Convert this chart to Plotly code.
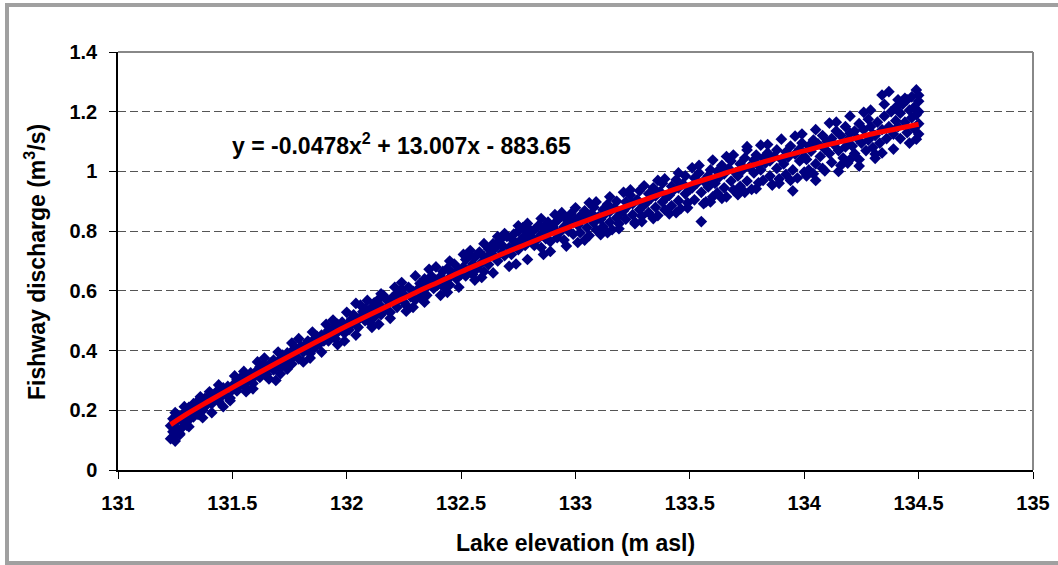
import plotly.graph_objects as go

# ---------------- data ----------------
# core of the scatter cloud
elevation = [
    131.23,131.23,131.24,131.24,131.25,131.25,131.26,131.26,131.27,131.28,131.28,131.29,131.30,131.30,
    131.31,131.31,131.32,131.33,131.33,131.34,131.35,131.35,131.36,131.37,131.38,131.38,131.39,131.40,
    131.41,131.41,131.42,131.43,131.44,131.44,131.45,131.46,131.47,131.48,131.49,131.50,
    131.51,131.52,131.52,131.53,131.54,131.55,131.56,131.56,131.57,131.58,131.59,131.60,
    131.61,131.62,131.62,131.63,131.64,131.65,131.66,131.67,131.68,131.68,131.69,131.70,
    131.71,131.72,131.72,131.73,131.74,131.75,131.76,131.76,131.77,131.78,131.79,131.80,
    131.81,131.82,131.82,131.83,131.84,131.85,131.86,131.86,131.87,131.88,131.89,131.90,
    131.91,131.92,131.92,131.93,131.94,131.95,131.96,131.96,131.97,131.98,131.99,132.00,
    132.01,132.02,132.02,132.03,132.04,132.04,132.05,132.06,132.07,132.08,132.08,132.09,132.10,132.10,
    132.11,132.12,132.12,132.13,132.14,132.15,132.15,132.16,132.17,132.18,132.19,132.20,
    132.21,132.22,132.22,132.23,132.24,132.25,132.25,132.26,132.27,132.28,132.29,132.30,
    132.31,132.32,132.32,132.33,132.34,132.35,132.35,132.36,132.37,132.38,132.39,132.40,
    132.41,132.42,132.42,132.43,132.44,132.45,132.45,132.46,132.47,132.48,132.49,132.50,
    132.51,132.52,132.52,132.53,132.54,132.55,132.55,132.56,132.57,132.58,132.59,132.60,132.60,
    132.61,132.62,132.62,132.63,132.64,132.65,132.65,132.66,132.67,132.68,132.68,132.69,132.70,
    132.71,132.72,132.72,132.73,132.74,132.75,132.75,132.76,132.77,132.78,132.78,132.79,132.80,
    132.81,132.82,132.82,132.83,132.84,132.85,132.85,132.86,132.87,132.88,132.88,132.89,132.90,
    132.91,132.92,132.92,132.93,132.94,132.95,132.95,132.96,132.97,132.98,132.98,132.99,133.00,
    133.01,133.02,133.02,133.03,133.04,133.05,133.05,133.06,133.07,133.08,133.08,133.09,133.10,
    133.11,133.12,133.12,133.13,133.14,133.15,133.15,133.16,133.17,133.18,133.18,133.19,133.20,
    133.21,133.22,133.22,133.23,133.24,133.25,133.25,133.26,133.27,133.28,133.28,133.29,133.30,
    133.31,133.32,133.32,133.33,133.34,133.35,133.35,133.36,133.37,133.38,133.38,133.39,133.40,
    133.41,133.42,133.42,133.43,133.44,133.45,133.45,133.46,133.47,133.48,133.48,133.49,133.50,
    133.51,133.52,133.52,133.53,133.54,133.55,133.55,133.56,133.57,133.58,133.58,133.59,133.60,133.60,
    133.61,133.62,133.62,133.63,133.64,133.65,133.65,133.66,133.67,133.68,133.68,133.69,133.70,
    133.71,133.72,133.72,133.73,133.74,133.75,133.75,133.76,133.77,133.78,133.78,133.79,133.80,133.80,
    133.81,133.82,133.82,133.83,133.84,133.85,133.85,133.86,133.87,133.88,133.88,133.89,133.90,
    133.91,133.92,133.92,133.93,133.94,133.95,133.95,133.96,133.97,133.98,133.98,133.99,134.00,134.00,
    134.01,134.02,134.02,134.03,134.04,134.05,134.05,134.06,134.07,134.08,134.08,134.09,134.10,
    134.11,134.12,134.12,134.13,134.14,134.15,134.15,134.16,134.17,134.18,134.18,134.19,134.20,134.20,
    134.21,134.22,134.22,134.23,134.24,134.24,134.25,134.26,134.27,134.28,134.28,134.29,134.30,134.30,
    134.31,134.31,134.32,134.33,134.34,134.34,134.35,134.36,134.37,134.37,134.38,134.39,134.40,134.40,
    134.41,134.42,134.42,134.43,134.44,134.45,134.45,134.46,134.47,134.47,134.48,134.48,134.49,134.49,134.50,134.50,134.50,134.50,
]
discharge = [
    0.105,0.148,0.128,0.172,0.097,0.158,0.135,0.185,0.118,0.165,0.142,0.192,0.175,0.150,
    0.168,0.210,0.190,0.222,0.178,0.205,0.232,0.186,0.215,0.200,0.240,0.212,0.225,0.248,
    0.222,0.252,0.240,0.262,0.230,0.255,0.245,0.275,0.252,0.280,0.241,0.268,
    0.290,0.265,0.302,0.280,0.312,0.292,0.275,0.318,0.300,0.325,0.290,0.315,
    0.335,0.310,0.345,0.325,0.352,0.320,0.342,0.360,0.335,0.368,0.300,0.350,
    0.372,0.350,0.385,0.365,0.392,0.378,0.355,0.398,0.382,0.405,0.372,0.415,
    0.395,0.420,0.405,0.432,0.390,0.425,0.440,0.410,0.448,0.422,0.452,0.432,
    0.455,0.432,0.468,0.448,0.475,0.440,0.462,0.488,0.470,0.495,0.458,0.485,
    0.470,0.505,0.488,0.520,0.558,0.495,0.478,0.512,0.530,0.500,0.540,0.518,0.495,0.535,
    0.545,0.512,0.560,0.530,0.572,0.520,0.548,0.585,0.538,0.565,0.528,0.578,
    0.560,0.592,0.545,0.575,0.605,0.562,0.588,0.552,0.612,0.580,0.598,0.570,
    0.605,0.580,0.625,0.598,0.640,0.612,0.585,0.630,0.650,0.608,0.636,0.622,
    0.648,0.615,0.665,0.632,0.675,0.645,0.620,0.660,0.690,0.640,0.672,0.655,
    0.680,0.650,0.705,0.668,0.720,0.690,0.655,0.712,0.675,0.730,0.695,0.665,0.715,
    0.705,0.740,0.688,0.725,0.758,0.712,0.745,0.700,0.770,0.730,0.752,0.718,0.782,
    0.745,0.775,0.722,0.790,0.758,0.800,0.738,0.770,0.812,0.752,0.785,0.765,0.805,
    0.780,0.752,0.805,0.770,0.820,0.790,0.745,0.812,0.775,0.830,0.798,0.765,0.815,
    0.805,0.778,0.835,0.795,0.850,0.815,0.770,0.840,0.800,0.858,0.825,0.790,0.838,
    0.820,0.850,0.795,0.838,0.868,0.812,0.845,0.785,0.860,0.828,0.880,0.805,0.848,
    0.840,0.872,0.815,0.858,0.890,0.830,0.865,0.805,0.878,0.845,0.900,0.825,0.862,
    0.868,0.898,0.840,0.885,0.920,0.855,0.892,0.830,0.905,0.872,0.935,0.850,0.888,
    0.895,0.925,0.862,0.910,0.945,0.880,0.918,0.852,0.932,0.898,0.960,0.872,0.915,
    0.920,0.950,0.885,0.938,0.972,0.902,0.945,0.875,0.958,0.925,0.985,0.895,0.940,
    0.945,0.978,0.905,0.960,0.995,0.832,0.930,0.968,0.898,0.985,0.948,1.005,0.915,0.970,
    0.960,1.000,0.928,0.982,1.020,0.945,0.992,0.915,1.010,0.968,1.035,0.938,0.995,
    0.985,1.025,0.950,1.005,1.045,1.083,0.968,1.015,0.940,1.038,0.995,1.055,0.962,1.020,
    1.005,1.045,0.970,1.028,1.062,0.985,1.035,0.955,1.050,1.010,1.072,0.975,1.040,
    1.025,1.065,0.990,1.048,1.085,0.935,1.005,1.058,0.978,1.075,1.035,1.095,0.998,1.050,
    1.040,1.085,1.005,1.068,1.105,0.970,1.025,1.092,1.050,1.120,1.010,1.075,1.100,
    1.060,1.110,1.030,1.090,1.135,1.000,1.070,1.120,1.045,1.150,1.082,1.105,1.040,1.128,
    1.085,1.135,1.060,1.112,1.018,1.160,1.095,1.140,1.070,1.175,1.105,1.150,1.080,1.125,
    1.044,1.120,1.165,1.095,1.256,1.140,1.185,1.110,1.267,1.150,1.200,1.125,1.170,1.215,
    1.150,1.195,1.110,1.225,1.165,1.240,1.130,1.205,1.180,1.250,1.145,1.215,1.273,1.190,1.125,1.160,1.200,1.235,
]

# points along the upper edge of the cloud
upper_x = [131.25,131.29,131.36,131.40,131.44,131.51,131.55,131.61,131.64,131.70,131.76,131.79,131.85,131.91,
           131.94,132.00,132.06,132.09,132.15,132.21,132.24,132.30,132.36,132.39,132.45,132.51,132.54,132.60,
           132.66,132.69,132.75,132.79,132.85,132.91,132.94,133.00,133.06,133.09,133.15,133.21,133.24,133.30,
           133.36,133.39,133.45,133.51,133.54,133.60,133.66,133.69,133.75,133.81,133.84,133.90,133.96,133.99,
           134.05,134.11,134.14,134.20,134.26,134.29,134.35,134.41,134.44,134.50]
upper_y = [0.192,0.212,0.245,0.262,0.285,0.315,0.330,0.362,0.375,0.395,0.425,0.440,0.462,0.488,
           0.502,0.528,0.552,0.568,0.590,0.612,0.628,0.650,0.672,0.680,0.700,0.722,0.735,0.758,
           0.782,0.792,0.818,0.826,0.842,0.855,0.862,0.878,0.895,0.898,0.915,0.930,0.938,0.952,
           0.970,0.975,0.995,1.012,1.020,1.038,1.050,1.055,1.072,1.088,1.090,1.108,1.118,1.125,
           1.140,1.162,1.165,1.185,1.198,1.205,1.225,1.240,1.245,1.255]

# points along the lower edge of the cloud
lower_x = [131.24,131.27,131.31,131.37,131.41,131.46,131.49,131.56,131.59,131.66,131.71,131.74,131.81,131.84,
           131.89,131.96,131.99,132.04,132.11,132.14,132.19,132.26,132.29,132.34,132.41,132.44,132.49,132.56,
           132.59,132.64,132.71,132.74,132.79,132.86,132.89,132.96,133.01,133.04,133.11,133.14,133.19,133.26,
           133.29,133.34,133.41,133.44,133.49,133.56,133.59,133.64,133.71,133.74,133.79,133.86,133.89,133.94,
           134.01,134.04,134.09,134.16,134.19,134.24,134.31,134.34,134.39,134.46,134.49]
lower_y = [0.110,0.122,0.145,0.175,0.192,0.212,0.232,0.262,0.272,0.305,0.322,0.338,0.362,0.375,
           0.395,0.420,0.432,0.452,0.478,0.488,0.508,0.532,0.545,0.562,0.585,0.595,0.612,0.636,
           0.645,0.660,0.682,0.690,0.705,0.722,0.732,0.750,0.762,0.770,0.788,0.795,0.808,0.825,
           0.832,0.842,0.858,0.862,0.878,0.892,0.898,0.910,0.922,0.930,0.942,0.955,0.960,0.970,
           0.985,0.992,1.002,1.020,1.028,1.040,1.058,1.062,1.075,1.095,1.108]

cloud_x = elevation + upper_x + lower_x
cloud_y = discharge + upper_y + lower_y
assert len(cloud_x) == len(cloud_y)

# polynomial trendline as drawn in the reference
trend_x = [131.23, 131.3, 131.4, 131.5, 131.6, 131.7, 131.8, 131.9, 132.0, 132.1, 132.2,
           132.3, 132.4, 132.5, 132.6, 132.7, 132.8, 132.9, 133.0, 133.1, 133.2, 133.3,
           133.4, 133.5, 133.6, 133.7, 133.8, 133.9, 134.0, 134.1, 134.2, 134.3, 134.4, 134.5]
trend_y = [0.152, 0.187, 0.232, 0.276, 0.319, 0.361, 0.402, 0.442, 0.482, 0.520, 0.557,
           0.594, 0.629, 0.664, 0.697, 0.730, 0.761, 0.792, 0.822, 0.850, 0.878, 0.905,
           0.931, 0.957, 0.981, 1.005, 1.027, 1.049, 1.069, 1.089, 1.107, 1.126, 1.142, 1.158]

x_ticks = [131, 131.5, 132, 132.5, 133, 133.5, 134, 134.5, 135]
x_tick_labels = ["131", "131.5", "132", "132.5", "133", "133.5", "134", "134.5", "135"]
y_ticks = [0, 0.2, 0.4, 0.6, 0.8, 1.0, 1.2, 1.4]
y_tick_labels = ["0", "0.2", "0.4", "0.6", "0.8", "1", "1.2", "1.4"]

equation_text = "y = -0.0478x<sup>2</sup> + 13.007x - 883.65"
x_title = "Lake elevation (m asl)"
y_title = "Fishway discharge (m<sup>3</sup>/s)"

# ---------------- figure ----------------
FONT = "Liberation Sans, Arial, sans-serif"
W, H = 1058, 565
L, R, T, B = 118, 1033, 52, 470   # plot area in pixels


def px(xp):
    return (xp - L) / (R - L)


def py(yp):
    return (B - yp) / (B - T)


fig = go.Figure()
fig.add_trace(go.Scatter(
    x=cloud_x, y=cloud_y, mode="markers",
    marker=dict(symbol="diamond", size=9, color="#000080", line=dict(width=0)),
    showlegend=False, hoverinfo="skip"))
fig.add_trace(go.Scatter(
    x=trend_x, y=trend_y, mode="lines",
    line=dict(color="#FF0000", width=5, shape="spline"),
    showlegend=False, hoverinfo="skip"))

fig.update_layout(
    width=W, height=H,
    margin=dict(l=L, r=W - R, t=T, b=H - B, pad=0, autoexpand=False),
    paper_bgcolor="white", plot_bgcolor="white",
    font=dict(family=FONT, color="black"),
    xaxis=dict(
        range=[131, 135], tickvals=x_ticks, ticktext=x_tick_labels,
        showgrid=False, zeroline=False, automargin=False,
        showline=True, linecolor="black", linewidth=1.5,
        ticks="outside", ticklen=7, tickcolor="black", tickwidth=1,
        tickfont=dict(family=FONT, size=20, color="black", weight="bold"),
        ticklabelstandoff=7,
    ),
    yaxis=dict(
        range=[0, 1.4], tickvals=y_ticks, ticktext=y_tick_labels,
        showgrid=True, gridcolor="#555555", gridwidth=1, griddash="8px,4px",
        zeroline=False, automargin=False,
        showline=True, linecolor="black", linewidth=1.5,
        ticks="outside", ticklen=7, tickcolor="black", tickwidth=1,
        tickfont=dict(family=FONT, size=20, color="black", weight="bold"),
        ticklabelstandoff=8,
    ),
    shapes=[
        dict(type="line", xref="paper", yref="paper", x0=0, x1=1, y0=1, y1=1,
             line=dict(color="#888888", width=2)),
        dict(type="line", xref="paper", yref="paper", x0=1, x1=1, y0=0, y1=1,
             line=dict(color="#888888", width=2)),
        dict(type="rect", xref="paper", yref="paper",
             x0=px(7), x1=px(1062), y0=py(563), y1=py(5),
             line=dict(color="#A0A0A0", width=4), layer="below"),
    ],
    annotations=[
        dict(text=equation_text, xref="paper", yref="paper",
             x=px(230), y=py(144), xanchor="left", yanchor="middle",
             showarrow=False, font=dict(family=FONT, size=23, color="black", weight="bold")),
        dict(text=x_title, xref="paper", yref="paper",
             x=px(575), y=py(543), xanchor="center", yanchor="middle",
             showarrow=False, font=dict(family=FONT, size=23, color="black", weight="bold")),
        dict(text=y_title, xref="paper", yref="paper",
             x=px(35), y=py(262), xanchor="center", yanchor="middle", textangle=-90,
             showarrow=False, font=dict(family=FONT, size=23, color="black", weight="bold")),
    ],
)

fig.write_html(
    "out.html",
    config={"displayModeBar": False},
    post_script="document.body.style.margin='0';document.body.style.overflow='hidden';",
)
